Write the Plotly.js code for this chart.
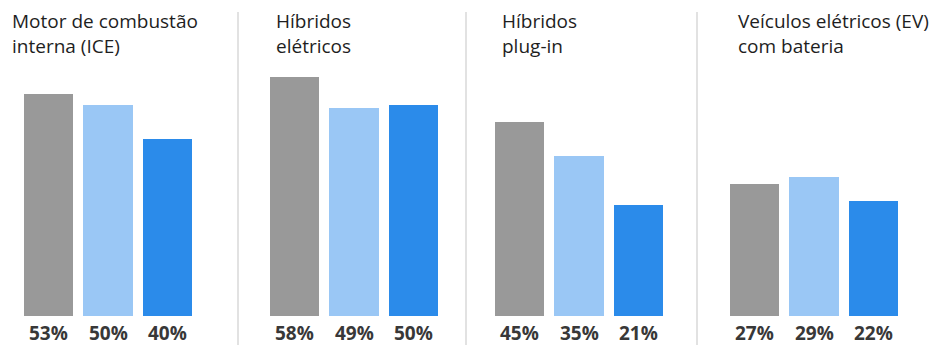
<!DOCTYPE html>
<html>
<head>
<meta charset="utf-8">
<script src="https://cdn.plot.ly/plotly-3.0.1.min.js"></script>
<style>html,body{margin:0;padding:0;background:#fff;}#chart{width:951px;height:345px;}</style>
</head>
<body>
<div id="chart"></div>
<script>
// ---- data ----
const panelTitles = ["Motor de combustão<br>interna (ICE)", "Híbridos<br>elétricos", "Híbridos<br>plug-in", "Veículos elétricos (EV)<br>com bateria"];
const seriesGrey = [53, 58, 45, 27];
const seriesLightBlue = [50, 49, 35, 29];
const seriesBlue = [40, 50, 21, 22];

// ---- layout constants ----
const W = 951, H = 345;
const plotTop = 60, plotBottom = 316;
const plotH = plotBottom - plotTop;
const pxPerUnit = 3.45;
const BASE = -39 / pxPerUnit;   // visual floor below zero used by the original graphic
const yTop = BASE + plotH / pxPerUnit;
const colors = ["#999999", "#9AC7F5", "#2B8BEA"];
const domainsPx = [[18.75, 197.25], [264.75, 443.25], [489.75, 668.25], [724.75, 903.25]];
const titleLeftPx = [12, 276, 502, 738];
const separatorsPx = [238, 466, 697];

const py = p => (plotBottom - p) / plotH;   // pixel y -> paper y
const px = p => p / W;                      // pixel x -> paper x

const traces = [];
const layout = {
  width: W, height: H,
  margin: {l: 0, r: 0, t: plotTop, b: H - plotBottom, pad: 0},
  paper_bgcolor: "#ffffff", plot_bgcolor: "#ffffff",
  showlegend: false,
  bargap: 0,
  yaxis: {range: [BASE, yTop], visible: false, fixedrange: true},
  annotations: [], shapes: []
};

panelTitles.forEach((title, i) => {
  const xid = i === 0 ? "x" : "x" + (i + 1);
  const axKey = i === 0 ? "xaxis" : "xaxis" + (i + 1);
  const vals = [seriesGrey[i], seriesLightBlue[i], seriesBlue[i]];
  layout[axKey] = {
    domain: [px(domainsPx[i][0]), px(domainsPx[i][1])],
    range: [-0.5, 2.5], visible: false, fixedrange: true, anchor: "y"
  };
  traces.push({
    type: "bar", xaxis: xid, yaxis: "y",
    x: [0, 1, 2],
    y: vals.map(v => v - BASE),
    base: BASE,
    width: 0.824,
    marker: {color: colors, line: {width: 0}},
    hoverinfo: "skip"
  });
  vals.forEach((v, j) => {
    layout.annotations.push({
      x: j, xref: xid, y: py(347), yref: "paper",
      xanchor: "center", yanchor: "bottom", showarrow: false, borderpad: 0,
      text: "<b>" + v + "%</b>",
      font: {family: "'Open Sans', sans-serif", size: 19, color: "#383838"}
    });
  });
  layout.annotations.push({
    x: px(titleLeftPx[i] - 2), xref: "paper", y: py(6), yref: "paper",
    xanchor: "left", yanchor: "top", align: "left", showarrow: false,
    text: title,
    font: {family: "'Open Sans', sans-serif", size: 19, color: "#1e1e1e"}
  });
});

separatorsPx.forEach(s => {
  layout.shapes.push({
    type: "line", xref: "paper", yref: "paper",
    x0: px(s), x1: px(s), y0: py(345), y1: py(12),
    line: {color: "#d9d9d9", width: 1.5}
  });
});

Plotly.newPlot("chart", traces, layout, {displayModeBar: false, staticPlot: true});
</script>
</body>
</html>
